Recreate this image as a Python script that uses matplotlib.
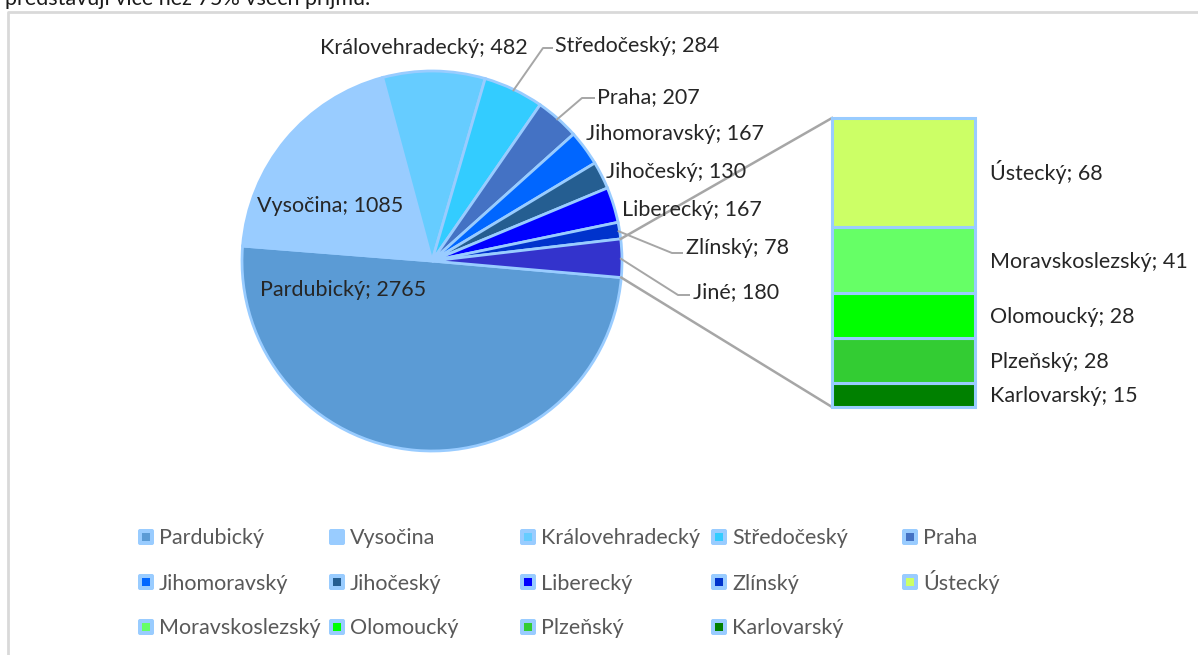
import matplotlib
matplotlib.use("Agg")
import matplotlib.pyplot as plt
from matplotlib.patches import Rectangle, FancyBboxPatch
import numpy as np

plt.rcParams['font.family'] = ['Lato', 'DejaVu Sans']

# ---- data ----
main_names = ["Pardubický", "Vysočina", "Královehradecký", "Středočeský", "Praha",
              "Jihomoravský", "Jihočeský", "Liberecký", "Zlínský", "Jiné"]
main_values = [2765, 1085, 482, 284, 207, 167, 130, 167, 78, 180]
main_colors = ["#5B9BD5", "#99CCFF", "#66CCFF", "#33CCFF", "#4472C4",
               "#0066FF", "#255E91", "#0000FF", "#0033CC", "#3333CC"]

other_names = ["Ústecký", "Moravskoslezský", "Olomoucký", "Plzeňský", "Karlovarský"]
other_values = [68, 41, 28, 28, 15]
other_colors = ["#CCFF66", "#66FF66", "#00FF00", "#33CC33", "#008000"]

legend_names = main_names[:-1] + other_names
legend_colors = main_colors[:-1] + other_colors

W, H = 1198, 655
EDGE = "#99CCFF"
LABEL_C = "#262626"
LEG_C = "#595959"
LINE_C = "#A6A6A6"

fig = plt.figure(figsize=(W / 100, H / 100), dpi=100)
ax = fig.add_axes([0, 0, 1, 1])

def P(x, y):
    return x, H - y

# baseline offset so that text is vertically centred on the given pixel y
BO = 7.5
def T(x, y):
    return x, H - (y + BO)

cx, cy = P(432, 261)
R = 190
wedges, _ = ax.pie(main_values, colors=main_colors, startangle=-5, counterclock=False,
                   center=(cx, cy), radius=R,
                   wedgeprops=dict(edgecolor=EDGE, linewidth=2.0))
ax.set_xlim(0, W)
ax.set_ylim(0, H)
ax.set_aspect('auto')
ax.axis('off')

def edge_pt(w, frac=0.5, rr=1.0):
    a = np.deg2rad(w.theta1 + (w.theta2 - w.theta1) * frac)
    return cx + R * rr * np.cos(a), cy + R * rr * np.sin(a)

fs = 15.5
VA = 'baseline'
lab = {n: v for n, v in zip(main_names, main_values)}

# labels without leader lines
ax.text(*T(257, 204), f"Vysočina; {lab['Vysočina']}", ha='left', va=VA, fontsize=fs, color=LABEL_C)
ax.text(*T(260, 289), f"Pardubický; {lab['Pardubický']}", ha='left', va=VA, fontsize=fs, color=LABEL_C)
ax.text(*T(528, 47), f"Královehradecký; {lab['Královehradecký']}", ha='right', va=VA, fontsize=fs, color=LABEL_C)
ax.text(*T(586, 132), f"Jihomoravský; {lab['Jihomoravský']}", ha='left', va=VA, fontsize=fs, color=LABEL_C)
ax.text(*T(606, 171), f"Jihočeský; {lab['Jihočeský']}", ha='left', va=VA, fontsize=fs, color=LABEL_C)
ax.text(*T(622, 209), f"Liberecký; {lab['Liberecký']}", ha='left', va=VA, fontsize=fs, color=LABEL_C)

# labels with leader lines
leaders = [
    ("Středočeský", (543, 48), (553, 48), (555, 44)),
    ("Praha", (582, 98), (595, 98), (597, 96)),
    ("Zlínský", (672, 253), (683, 253), (686, 246)),
    ("Jiné", (678, 295), (690, 295), (693, 291)),
]
for name, elbow, end, tpos in leaders:
    w = wedges[main_names.index(name)]
    ex, ey = edge_pt(w, 0.5, 0.99)
    bx, by = P(*elbow)
    dx, dy = P(*end)
    ax.plot([ex, bx, dx], [ey, by, dy], color=LINE_C, lw=1.4, solid_capstyle='butt')
    ax.text(*T(*tpos), f"{name}; {lab[name]}", ha='left', va=VA, fontsize=fs, color=LABEL_C)

# ---- bar of "Jiné" ----
bx0, by0, bw, bh = 832, 118, 143, 289
bax = fig.add_axes([bx0 / W, (H - by0 - bh) / H, bw / W, bh / H])
bax.set_xlim(0, 1)
bax.set_ylim(0, sum(other_values))
bax.axis('off')
bottom = 0
order = list(range(len(other_values)))[::-1]  # smallest at bottom
for i in order:
    v = other_values[i]
    bax.bar(0.5, v, width=1.0, bottom=bottom, color=other_colors[i],
            edgecolor=EDGE, linewidth=2.2, clip_on=False)
    # label centred on the segment (converted to main-axes pixel coords)
    _, disp_y = bax.transData.transform((1.0, bottom + v / 2))
    ax.text(990, disp_y - BO, f"{other_names[i]}; {v}", ha='left', va=VA,
            fontsize=fs, color=LABEL_C)
    bottom += v

# connector lines from Jiné wedge to bar
wj = wedges[-1]
t1x, t1y = edge_pt(wj, 1.0)
t0x, t0y = edge_pt(wj, 0.0)
upper = (t1x, t1y) if t1y > t0y else (t0x, t0y)
lower = (t0x, t0y) if t1y > t0y else (t1x, t1y)
ax.plot([upper[0], bx0], [upper[1], H - by0], color=LINE_C, lw=1.8)
ax.plot([lower[0], bx0], [lower[1], H - by0 - bh], color=LINE_C, lw=1.8)

# ---- legend (manual, Excel-like grid) ----
col_x = [138, 329, 520, 711, 902]
row_y = [537, 582, 627]
for k, (name, col) in enumerate(zip(legend_names, legend_colors)):
    r, c = divmod(k, 5)
    x, y = col_x[c], row_y[r]
    ox, oy = P(x, y + 8)
    ax.add_patch(FancyBboxPatch((ox, oy), 16, 16, boxstyle="round,pad=0,rounding_size=2",
                                facecolor=EDGE, edgecolor=EDGE, lw=0))
    ix, iy = P(x + 4, y + 4)
    ax.add_patch(Rectangle((ix, iy), 8, 8, facecolor=col, edgecolor='none'))
    ax.text(*T(x + 21, y), name, ha='left', va=VA, fontsize=fs, color=LEG_C)

# chart frame (partially visible)
ax.plot([8, 8, W + 5], [-5, H - 12, H - 12], color="#D9D9D9", lw=2, clip_on=False)

# cut-off text at top (from the surrounding document)
ax.text(5, H - 5, "představují více než 75% všech příjmů.", ha='left', va='baseline',
        fontsize=15.5, color="#1a1a1a")

fig.savefig("out.png", dpi=100)
